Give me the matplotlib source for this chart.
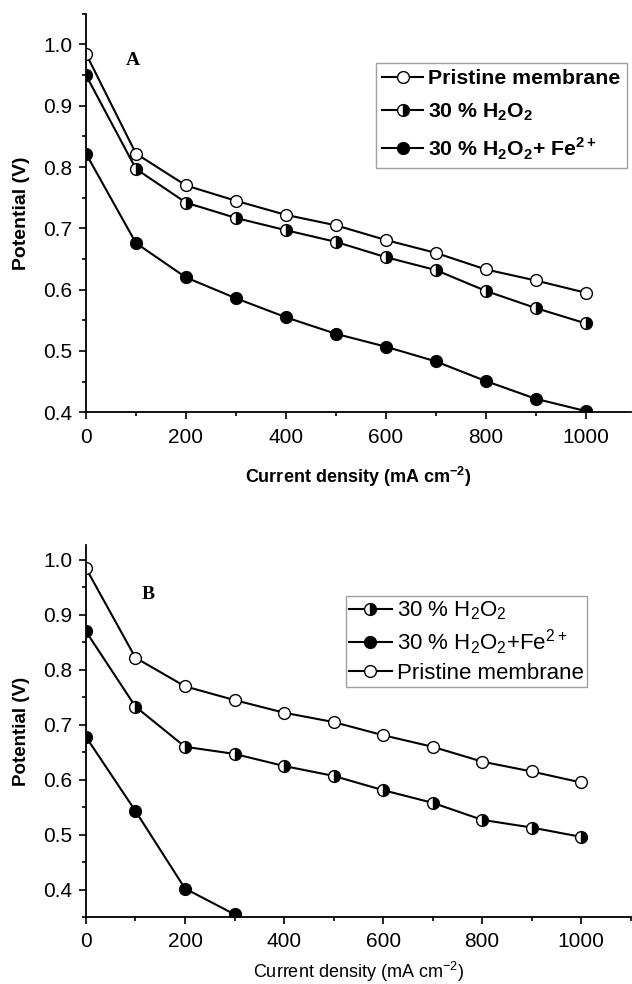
import matplotlib
matplotlib.use("Agg")
import matplotlib.pyplot as plt
from matplotlib.ticker import MultipleLocator

plt.rcParams['font.family'] = ['Liberation Sans', 'DejaVu Sans']
plt.rcParams['mathtext.fontset'] = 'custom'
plt.rcParams['mathtext.rm'] = 'Liberation Sans'
plt.rcParams['mathtext.bf'] = 'Liberation Sans:bold'

current = [0, 100, 200, 300, 400, 500, 600, 700, 800, 900, 1000]

# Panel A
a_pristine = [0.985, 0.822, 0.770, 0.745, 0.722, 0.705, 0.681, 0.660, 0.633, 0.615, 0.595]
a_h2o2 = [0.950, 0.797, 0.742, 0.717, 0.697, 0.678, 0.653, 0.632, 0.598, 0.570, 0.545]
a_fe = [0.822, 0.676, 0.620, 0.586, 0.555, 0.528, 0.507, 0.483, 0.451, 0.422, 0.402]

# Panel B
b_h2o2 = [0.870, 0.733, 0.660, 0.647, 0.625, 0.607, 0.581, 0.558, 0.527, 0.513, 0.496]
b_fe_x = [0, 100, 200, 300]
b_fe = [0.678, 0.543, 0.402, 0.355]
b_pristine = [0.985, 0.822, 0.770, 0.745, 0.722, 0.705, 0.681, 0.660, 0.633, 0.615, 0.595]

fig = plt.figure(figsize=(6.32, 9.84), dpi=100)
axA = fig.add_axes([0.136, 0.581, 0.862, 0.405])
axB = fig.add_axes([0.136, 0.068, 0.862, 0.378])

ms = 8.5
open_kw = dict(marker='o', color='black', lw=1.5, ms=ms, mfc='white', mec='black', mew=1.0)
half_kw = dict(marker='o', color='black', lw=1.5, ms=ms, mfc='black', mec='black', mew=1.0,
               fillstyle='right', markerfacecoloralt='white')
full_kw = dict(marker='o', color='black', lw=1.5, ms=ms, mfc='black', mec='black', mew=1.0)

lA1, = axA.plot(current, a_pristine, label='Pristine membrane', **open_kw)
lA2, = axA.plot(current, a_h2o2, label=r'30 % H$_\mathbf{2}$O$_\mathbf{2}$', **half_kw)
lA3, = axA.plot(current, a_fe, label=r'30 % H$_\mathbf{2}$O$_\mathbf{2}$+ Fe$^\mathbf{2+}$', **full_kw)

lB1, = axB.plot(current, b_h2o2, label=r'30 % H$_2$O$_2$', **half_kw)
lB2, = axB.plot(b_fe_x, b_fe, label=r'30 % H$_2$O$_2$+Fe$^{2+}$', **full_kw)
lB3, = axB.plot(current, b_pristine, label='Pristine membrane', **open_kw)

for ax in (axA, axB):
    ax.spines['top'].set_visible(False)
    ax.spines['right'].set_visible(False)
    ax.spines['left'].set_linewidth(1.3)
    ax.spines['bottom'].set_linewidth(1.3)
    ax.xaxis.set_major_locator(MultipleLocator(200))
    ax.xaxis.set_minor_locator(MultipleLocator(100))
    ax.yaxis.set_major_locator(MultipleLocator(0.1))
    ax.yaxis.set_minor_locator(MultipleLocator(0.05))
    ax.tick_params(which='both', direction='out', width=1.2, labelsize=15)
    ax.tick_params(which='major', length=5)
    ax.tick_params(which='minor', length=3)
    ax.tick_params(axis='x', which='major', pad=6)
    ax.tick_params(axis='y', which='major', pad=5)
    ax.yaxis.set_major_formatter(plt.FuncFormatter(lambda v, p: f"{v:.1f}"))

axA.set_xlim(0, 1090)
axA.set_ylim(0.4, 1.05)
axB.set_xlim(0, 1100)
axB.set_ylim(0.35, 1.027)

axA.set_xlabel(r'Current density (mA cm$^\mathbf{-2}$)', fontsize=13, fontweight='bold')
axA.set_ylabel('Potential (V)', fontsize=14, fontweight='bold')
axB.set_xlabel(r'Current density (mA cm$^{-2}$)', fontsize=13)
axB.set_ylabel('Potential (V)', fontsize=13.5, fontweight='bold')

axA.xaxis.set_label_coords(0.5, -0.163)
axA.xaxis.label.set_va('center')
axB.xaxis.set_label_coords(0.5, -0.147)
axB.xaxis.label.set_va('center')
for ax in (axA, axB):
    ax.yaxis.set_label_coords(-0.119, 0.5)
    ax.yaxis.label.set_va('center')

axA.text(0.086, 0.884, 'A', transform=axA.transAxes, fontsize=14, fontweight='bold',
         family='Liberation Serif', va='center', ha='center')
axB.text(0.114, 0.868, 'B', transform=axB.transAxes, fontsize=14, fontweight='bold',
         family='Liberation Serif', va='center', ha='center')

legA = axA.legend(handles=[lA1, lA2, lA3], loc='upper left',
                  bbox_to_anchor=(376 / 632, 1 - 63 / 984), bbox_transform=fig.transFigure,
                  prop={'weight': 'bold', 'size': 15.3}, frameon=True, fancybox=False,
                  edgecolor='#888888', handlelength=1.9, handletextpad=0.25,
                  borderpad=0.3, labelspacing=0.6, borderaxespad=0)
legA.get_frame().set_linewidth(1.0)

legB = axB.legend(handles=[lB1, lB2, lB3], loc='upper left',
                  bbox_to_anchor=(346 / 632, 1 - 596 / 984), bbox_transform=fig.transFigure,
                  prop={'size': 16}, frameon=True, fancybox=False,
                  edgecolor='#888888', handlelength=1.9, handletextpad=0.25,
                  borderpad=0.15, labelspacing=0.25, borderaxespad=0)
legB.get_frame().set_linewidth(1.0)

fig.savefig('out.png', dpi=100)
